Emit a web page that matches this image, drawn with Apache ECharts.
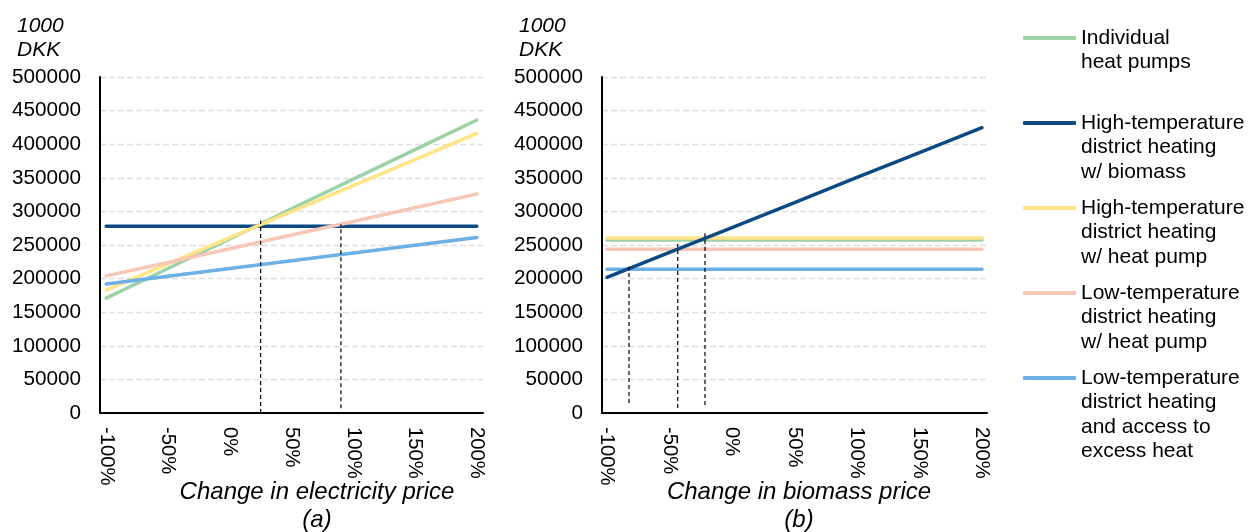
<!DOCTYPE html>
<html><head><meta charset="utf-8">
<script src="https://cdn.jsdelivr.net/npm/echarts@6/dist/echarts.min.js"></script>
<style>html,body{margin:0;padding:0;background:#fff}#c{width:1248px;height:532px}</style>
</head><body><div id="c"></div>
<script>
// ---------- data ----------
const priceChange = [-100, -50, 0, 50, 100, 150, 200];
const tickLabels = ['-100%', '-50%', '0%', '50%', '100%', '150%', '200%'];
const yTicks = [0, 50000, 100000, 150000, 200000, 250000, 300000, 350000, 400000, 450000, 500000];
const seriesNames = [
  'Individual\nheat pumps',
  'High-temperature\ndistrict heating\nw/ biomass',
  'High-temperature\ndistrict heating\nw/ heat pump',
  'Low-temperature\ndistrict heating\nw/ heat pump',
  'Low-temperature\ndistrict heating\nand access to\nexcess heat'
];
const seriesColors = ['#9dd1a8', '#0d4a83', '#ffe588', '#f6c6b7', '#6cb0e6'];

// (a) change in electricity price, 1000 DKK
const elecIndividualHP = [171000, 215000, 259000, 304000, 348000, 392000, 436000];
const elecHTBiomass    = [278000, 278000, 278000, 278000, 278000, 278000, 278000];
const elecHTHeatPump   = [183000, 222000, 261000, 299500, 338500, 377000, 416000];
const elecLTHeatPump   = [204000, 224000, 244500, 265000, 285000, 305500, 326000];
const elecLTExcessHeat = [192000, 203500, 215000, 226500, 238000, 249500, 261000];

// (b) change in biomass price, 1000 DKK
const bioIndividualHP = [257500, 257500, 257500, 257500, 257500, 257500, 257500];
const bioHTBiomass    = [202000, 239000, 276000, 313000, 350500, 387500, 424500];
const bioHTHeatPump   = [260500, 260500, 260500, 260500, 260500, 260500, 260500];
const bioLTHeatPump   = [243600, 243600, 243600, 243600, 243600, 243600, 243600];
const bioLTExcessHeat = [213800, 213800, 213800, 213800, 213800, 213800, 213800];

// break-even guide lines
const elecBreakEvenX = [25, 90];
const elecBreakEvenTop = [286000, 281000];
const elecBreakEvenBottom = [0, 7000];
const bioBreakEvenX = [-82.4, -43.4, -21.6];
const bioBreakEvenTop = [217700, 251500, 267400];
const bioBreakEvenBottom = [14900, 7400, 11900];

// ---------- chart ----------
const FONT = '"Liberation Sans", Arial, sans-serif';
const pair = (xs, ys) => xs.map((x, i) => [x, ys[i]]);

function lineSeries(idx, values, gridIdx, z) {
  return {
    name: seriesNames[idx], type: 'line', xAxisIndex: gridIdx, yAxisIndex: gridIdx,
    data: pair(priceChange, values), symbol: 'none', z: z || 2,
    itemStyle: { color: seriesColors[idx] },
    lineStyle: { color: seriesColors[idx], width: 3.5, cap: 'round' },
    emphasis: { disabled: true }
  };
}
function guideSeries(xs, bottoms, tops, gridIdx) {
  return xs.map((x, i) => ({
    name: 'guide', type: 'line', xAxisIndex: gridIdx, yAxisIndex: gridIdx,
    data: [[x, bottoms[i]], [x, tops[i]]], symbol: 'none', silent: true, z: 5,
    lineStyle: { color: '#000', width: 1.2, type: [4, 3] }
  }));
}

function xAxis(gridIdx, min, max) {
  return {
    type: 'value', gridIndex: gridIdx, min: min, max: max,
    axisLine: { show: true, onZero: false, lineStyle: { color: '#000', width: 2 } },
    axisTick: { show: false },
    splitLine: { show: false },
    axisLabel: {
      customValues: priceChange,
      formatter: v => tickLabels[priceChange.indexOf(v)],
      rotate: -90, margin: 14, fontSize: 20.3, color: '#000', fontFamily: FONT
    }
  };
}
function yAxis(gridIdx) {
  return {
    type: 'value', gridIndex: gridIdx, min: yTicks[0], max: yTicks[yTicks.length - 1], interval: yTicks[1] - yTicks[0],
    axisLine: { show: true, onZero: false, lineStyle: { color: '#000', width: 2 } },
    axisTick: { show: false },
    splitLine: { show: true, lineStyle: { color: '#dedede', width: 1.3, type: [6, 3] } },
    axisLabel: { margin: 19, fontSize: 20.7, color: '#000', fontFamily: FONT, formatter: v => String(v) }
  };
}

const legendCenters = [38, 123, 208, 293, 378];
const LEG_LH = 24.5;
const legends = seriesNames.map((name, i) => {
  const n = name.split('\n').length;
  const h = (2 * n - 1) * LEG_LH;
  return {
    data: [name], orient: 'vertical', left: 1023, top: legendCenters[i] - h / 2,
    padding: 0, icon: 'roundRect', itemWidth: 53, itemHeight: 4, itemGap: 0,
    selectedMode: false,
    formatter: nm => '\n'.repeat(n - 1) + nm,
    textStyle: { fontSize: 21, lineHeight: LEG_LH, color: '#000', fontFamily: FONT }
  };
});

const textItem = (txt, x, y, size, lh, align) => ({
  type: 'text', x: x, y: y, silent: true,
  style: { text: txt, font: 'italic ' + size + 'px ' + FONT, fill: '#000',
           lineHeight: lh, align: align, verticalAlign: 'top' }
});

const option = {
  animation: false,
  backgroundColor: '#fff',
  grid: [
    { left: 100, top: 77, width: 383, height: 336, outerBoundsMode: 'none', containLabel: false },
    { left: 602, top: 77, width: 385, height: 336, outerBoundsMode: 'none', containLabel: false }
  ],
  xAxis: [xAxis(0, -105, 205), xAxis(1, -104, 204)],
  yAxis: [yAxis(0), yAxis(1)],
  legend: legends,
  graphic: [
    textItem('1000\nDKK', 17, 14, 21, 24, 'left'),
    textItem('1000\nDKK', 519, 14, 21, 24, 'left'),
    textItem('Change in electricity price\n(a)', 317, 478, 24, 28, 'center'),
    textItem('Change in biomass price\n(b)', 799, 478, 24, 28, 'center')
  ],
  series: [
    lineSeries(0, elecIndividualHP, 0),
    lineSeries(1, elecHTBiomass, 0),
    lineSeries(2, elecHTHeatPump, 0),
    lineSeries(3, elecLTHeatPump, 0),
    lineSeries(4, elecLTExcessHeat, 0),
    lineSeries(0, bioIndividualHP, 1),
    lineSeries(2, bioHTHeatPump, 1),
    lineSeries(3, bioLTHeatPump, 1),
    lineSeries(4, bioLTExcessHeat, 1),
    lineSeries(1, bioHTBiomass, 1, 3)
  ].concat(guideSeries(elecBreakEvenX, elecBreakEvenBottom, elecBreakEvenTop, 0))
   .concat(guideSeries(bioBreakEvenX, bioBreakEvenBottom, bioBreakEvenTop, 1))
};

const chart = echarts.init(document.getElementById('c'), null, { renderer: 'canvas' });
chart.setOption(option);
</script>
</body></html>
